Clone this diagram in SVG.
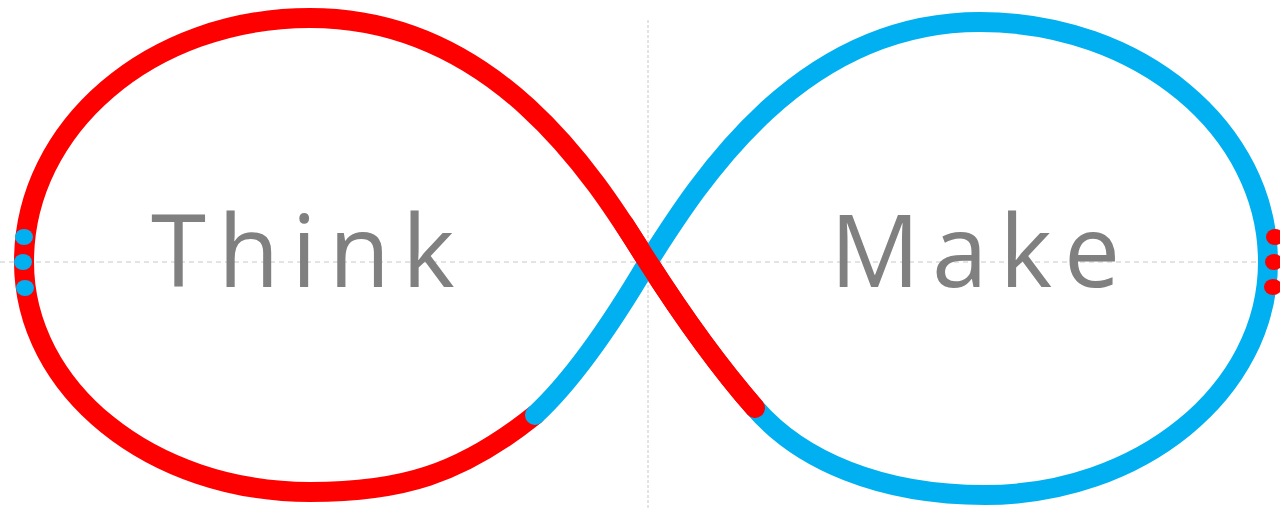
<svg xmlns="http://www.w3.org/2000/svg" width="1280" height="509" viewBox="0 0 1280 509">
<style>
.guide{stroke:#c8c8c8;stroke-width:1;fill:none}
.loop{fill:none;stroke-width:20;stroke-linecap:round;stroke-linejoin:round}
.red{stroke:#ff0000}
.blue{stroke:#00b0f0}
.lbl{font-family:"Open Sans","Noto Sans",sans-serif;font-size:100px;fill:#808080;letter-spacing:12px}
</style>
<rect width="1280" height="509" fill="#ffffff"/>
<g id="guides">
<line class="guide" x1="0" y1="262" x2="1280" y2="262" stroke-dasharray="5,4"/>
<line class="guide" x1="648" y1="20" x2="648" y2="509" stroke-dasharray="3,2"/>
</g>
<g id="connectors">
<path class="loop red" d="M755,408 C720,368 680,312 648,262 C600,186 500,18 310,18 C151,18 24,127 24,262 C24,389 151,492 310,492 C400,492 460,475 535,415"/>
<path class="loop blue" d="M535,415 C575,378 615,318 648,262 C700,180 800,22 980,22 C1139,22 1268,129 1268,262 C1268,392 1139,495 985,495 C880,495 800,460 755,408"/>
<path class="loop red" d="M755,408 C720,368 680,312 648,262 L624,224"/>
</g>
<g id="think">
<text class="lbl" x="151" y="287">Think</text>
<ellipse cx="24" cy="237" rx="9" ry="8" fill="#00b0f0"/>
<ellipse cx="23" cy="262" rx="9" ry="8" fill="#00b0f0"/>
<ellipse cx="25" cy="288" rx="9" ry="8" fill="#00b0f0"/>
</g>
<g id="make">
<text class="lbl" x="830" y="287">Make</text>
<ellipse cx="1275" cy="237" rx="9" ry="8" fill="#ff0000"/>
<ellipse cx="1274" cy="262" rx="9" ry="8" fill="#ff0000"/>
<ellipse cx="1273" cy="287" rx="9" ry="8" fill="#ff0000"/>
</g>
</svg>
